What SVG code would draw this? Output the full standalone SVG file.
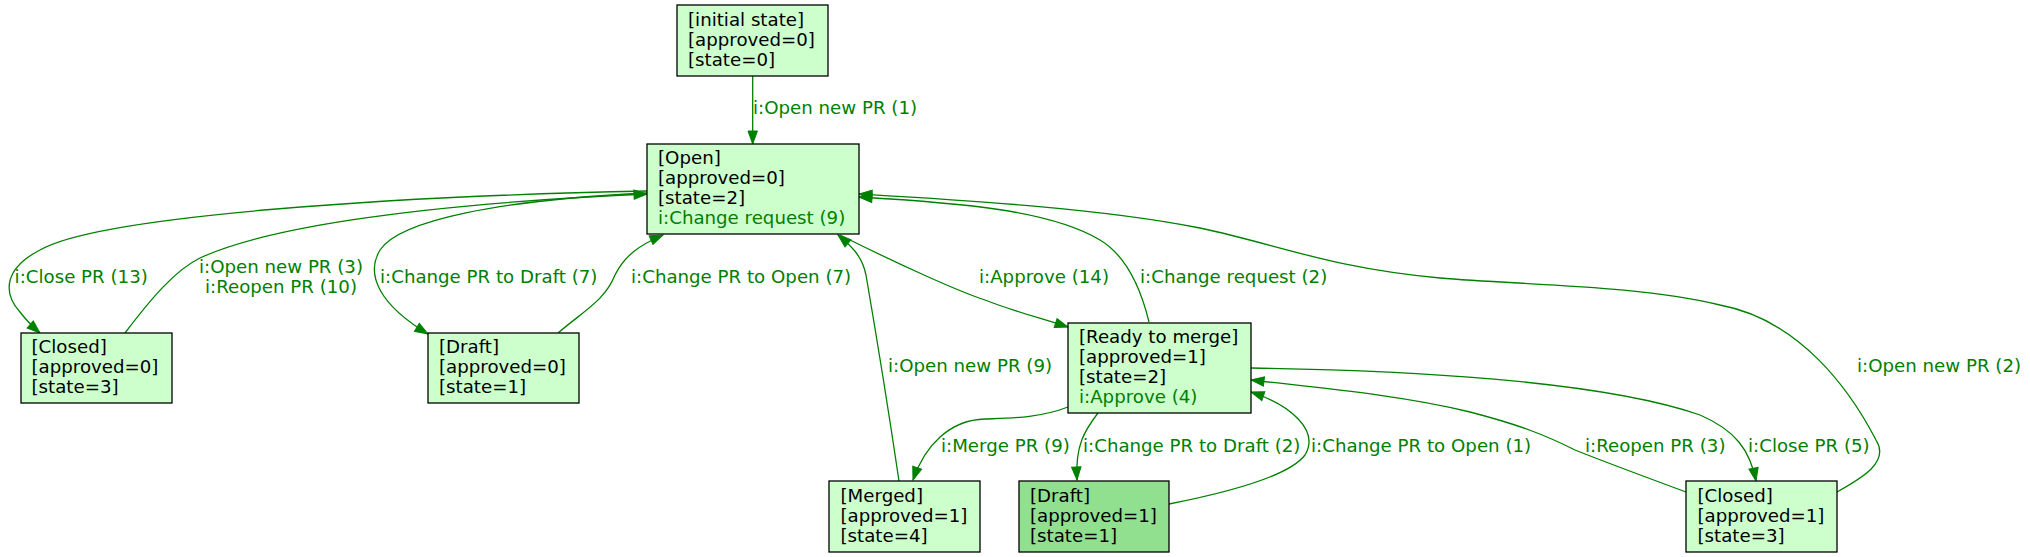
<svg xmlns="http://www.w3.org/2000/svg" width="2030" height="557" viewBox="0 0 2030 557">
<style>
.node rect{fill:#ccffcc;stroke:#000;stroke-width:1.3}
.node.dark rect{fill:#90e090}
.node text{font-family:"DejaVu Sans",sans-serif;font-size:18.2px;fill:#000}
.node text.g{fill:#008000}
.edges path{fill:none;stroke:#008000;stroke-width:1.3;marker-end:url(#arr)}
.edges path.na{marker-end:none}
.lbl{font-family:"DejaVu Sans",sans-serif;font-size:18.2px;fill:#008000}
</style>
<defs>
<marker id="arr" markerUnits="userSpaceOnUse" markerWidth="14" markerHeight="11" refX="13" refY="5" orient="auto" overflow="visible">
<path d="M0,0.3 L13,5 L0,9.7 z" fill="#008000" stroke="#008000" stroke-width="1"/>
</marker>
</defs>
<rect width="2030" height="557" fill="#fff"/>
<g class="edges">
<path d="M752.7,76 L752.7,144"/>
<path d="M647,191 C400,196 100,215 40,250 C5,268 2,292 20,312 C26,320 32,326 40,333"/>
<path d="M125,333 C150,300 175,270 200,258 C260,230 400,205 647,194"/>
<path d="M647,193 C500,200 400,220 380,250 C365,275 380,305 428,334"/>
<path d="M558,333 C585,310 605,300 615,275 C625,255 640,245 663,235"/>
<path d="M840,235 C900,265 960,292 985,300 C1010,310 1040,318 1068,327"/>
<path d="M1149,322 C1140,285 1125,255 1100,240 C1050,210 960,203 859,197"/>
<path d="M1837,492 C1862,478 1890,462 1876,440 C1850,390 1800,320 1720,305 C1640,285 1520,285 1440,278 C1330,268 1280,245 1200,228 C1100,208 960,200 859,194"/>
<path d="M899,481 C890,420 872,310 866,275 C862,255 850,245 838,235"/>
<path d="M1068,407 C1040,418 1010,418 985,419 C950,420 925,445 913,480"/>
<path d="M1098,413 C1085,430 1075,445 1077,480"/>
<path d="M1169,504 C1230,492 1290,475 1305,455 C1320,430 1290,405 1251,392"/>
<path d="M1686,492 C1640,475 1600,460 1575,450 C1545,435 1520,425 1470,412 C1400,395 1320,388 1251,380"/>
<path d="M1251,368 C1400,370 1600,380 1700,415 C1735,430 1750,450 1756,481"/>
</g>
<g class="labels">
<text class="lbl" x="753" y="114">i:Open new PR (1)</text>
<text class="lbl" x="14.6" y="283">i:Close PR (13)</text>
<text class="lbl" x="281" y="273" text-anchor="middle">i:Open new PR (3)</text>
<text class="lbl" x="281" y="293" text-anchor="middle">i:Reopen PR (10)</text>
<text class="lbl" x="380" y="283">i:Change PR to Draft (7)</text>
<text class="lbl" x="631" y="283">i:Change PR to Open (7)</text>
<text class="lbl" x="979" y="283">i:Approve (14)</text>
<text class="lbl" x="1140" y="283">i:Change request (2)</text>
<text class="lbl" x="888" y="372">i:Open new PR (9)</text>
<text class="lbl" x="1857" y="372">i:Open new PR (2)</text>
<text class="lbl" x="941" y="452">i:Merge PR (9)</text>
<text class="lbl" x="1083" y="452">i:Change PR to Draft (2)</text>
<text class="lbl" x="1311" y="452">i:Change PR to Open (1)</text>
<text class="lbl" x="1585" y="452">i:Reopen PR (3)</text>
<text class="lbl" x="1748" y="452">i:Close PR (5)</text>
</g>
<g id="initial" class="node">
<rect x="677" y="5" width="151" height="71"/>
<text x="688" y="25.5">[initial state]</text>
<text x="688" y="45.5">[approved=0]</text>
<text x="688" y="65.5">[state=0]</text>
</g>
<g id="open" class="node">
<rect x="647" y="144" width="212" height="90"/>
<text x="658" y="164">[Open]</text>
<text x="658" y="184">[approved=0]</text>
<text x="658" y="204">[state=2]</text>
<text x="658" y="224" class="g">i:Change request (9)</text>
</g>
<g id="closed0" class="node">
<rect x="21" y="333" width="151" height="70"/>
<text x="31.5" y="353">[Closed]</text>
<text x="31.5" y="373">[approved=0]</text>
<text x="31.5" y="393">[state=3]</text>
</g>
<g id="draft0" class="node">
<rect x="428" y="333" width="151" height="70"/>
<text x="439" y="353">[Draft]</text>
<text x="439" y="373">[approved=0]</text>
<text x="439" y="393">[state=1]</text>
</g>
<g id="ready" class="node">
<rect x="1068" y="323" width="183" height="90"/>
<text x="1079" y="343">[Ready to merge]</text>
<text x="1079" y="363">[approved=1]</text>
<text x="1079" y="383">[state=2]</text>
<text x="1079" y="403" class="g">i:Approve (4)</text>
</g>
<g id="merged" class="node">
<rect x="829" y="481" width="151" height="71"/>
<text x="840.5" y="501.5">[Merged]</text>
<text x="840.5" y="521.5">[approved=1]</text>
<text x="840.5" y="541.5">[state=4]</text>
</g>
<g id="draft1" class="node dark">
<rect x="1019" y="481" width="150" height="71"/>
<text x="1030" y="501.5">[Draft]</text>
<text x="1030" y="521.5">[approved=1]</text>
<text x="1030" y="541.5">[state=1]</text>
</g>
<g id="closed1" class="node">
<rect x="1686" y="481" width="151" height="71"/>
<text x="1697.5" y="501.5">[Closed]</text>
<text x="1697.5" y="521.5">[approved=1]</text>
<text x="1697.5" y="541.5">[state=3]</text>
</g>
</svg>
